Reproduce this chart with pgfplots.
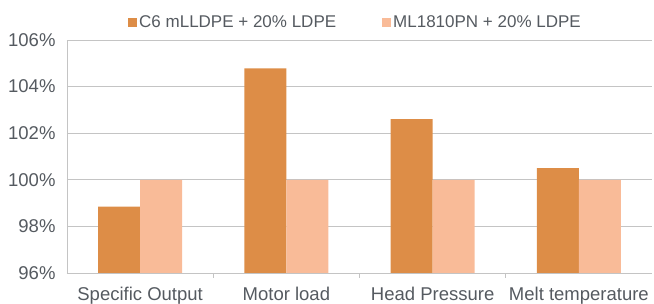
\documentclass[border=0pt]{standalone}
\usepackage{pgfplots}
\pgfplotsset{compat=1.18}
\usepackage{fontspec}
\setmainfont{Liberation Sans}
\definecolor{cDark}{HTML}{DD8D47}
\definecolor{cLight}{HTML}{F9BB98}
\definecolor{txt}{HTML}{555A60}
\definecolor{gridc}{HTML}{C4C4C4}
\begin{document}
\begin{tikzpicture}
\begin{axis}[
  name=ax,
  scale only axis,
  width=585pt, height=233pt,
  ybar=0pt, bar width=42pt,
  xmin=-0.5, xmax=3.5,
  ymin=96, ymax=106,
  xtick={0,1,2,3},
  xticklabels={Specific Output, Motor load, Head Pressure, Melt temperature},
  ytick={96,98,100,102,104,106},
  yticklabels={96\%,98\%,100\%,102\%,104\%,106\%},
  major x tick style={draw=none},
  major tick length=0pt,
  extra x ticks={0.5,1.5,2.5},
  extra x tick labels={},
  extra x tick style={grid=none, major tick length=5pt, tick align=outside, major x tick style={draw=gridc, line width=0.8pt}},
  ymajorgrids, grid style={draw=gridc, line width=0.8pt},
  axis x line*=bottom, axis y line*=left,
  axis line style={draw=gridc, line width=0.8pt, -},
  tick label style={font=\fontsize{18.5}{20}\selectfont, text=txt},
  yticklabel style={xshift=-8pt},
  xticklabel style={yshift=-11pt},
  legend style={at={(0.5,1)}, anchor=south, yshift=7pt, xshift=-4pt, draw=none, fill=none,
     font=\fontsize{17}{18}\selectfont, text=txt, legend columns=2,
     /tikz/every even column/.append style={column sep=44pt}},
  legend image code/.code={\fill[#1] (0pt,-4.5pt) rectangle (9pt,4.5pt);},
  legend cell align=left,
  every legend entry/.style={xshift=2pt},
]
\addplot[fill=cDark, draw=none] coordinates {(0,98.85) (1,104.78) (2,102.6) (3,100.5)};
\addplot[fill=cLight, draw=none] coordinates {(0,100) (1,100) (2,100) (3,100)};
\legend{C6 mLLDPE + 20\% LDPE, ML1810PN + 20\% LDPE}
\end{axis}
\pgfresetboundingbox
\path[use as bounding box] ([shift={(-67pt,-31pt)}]ax.south west) rectangle ([shift={(2pt,40pt)}]ax.north east);
\end{tikzpicture}
\end{document}
